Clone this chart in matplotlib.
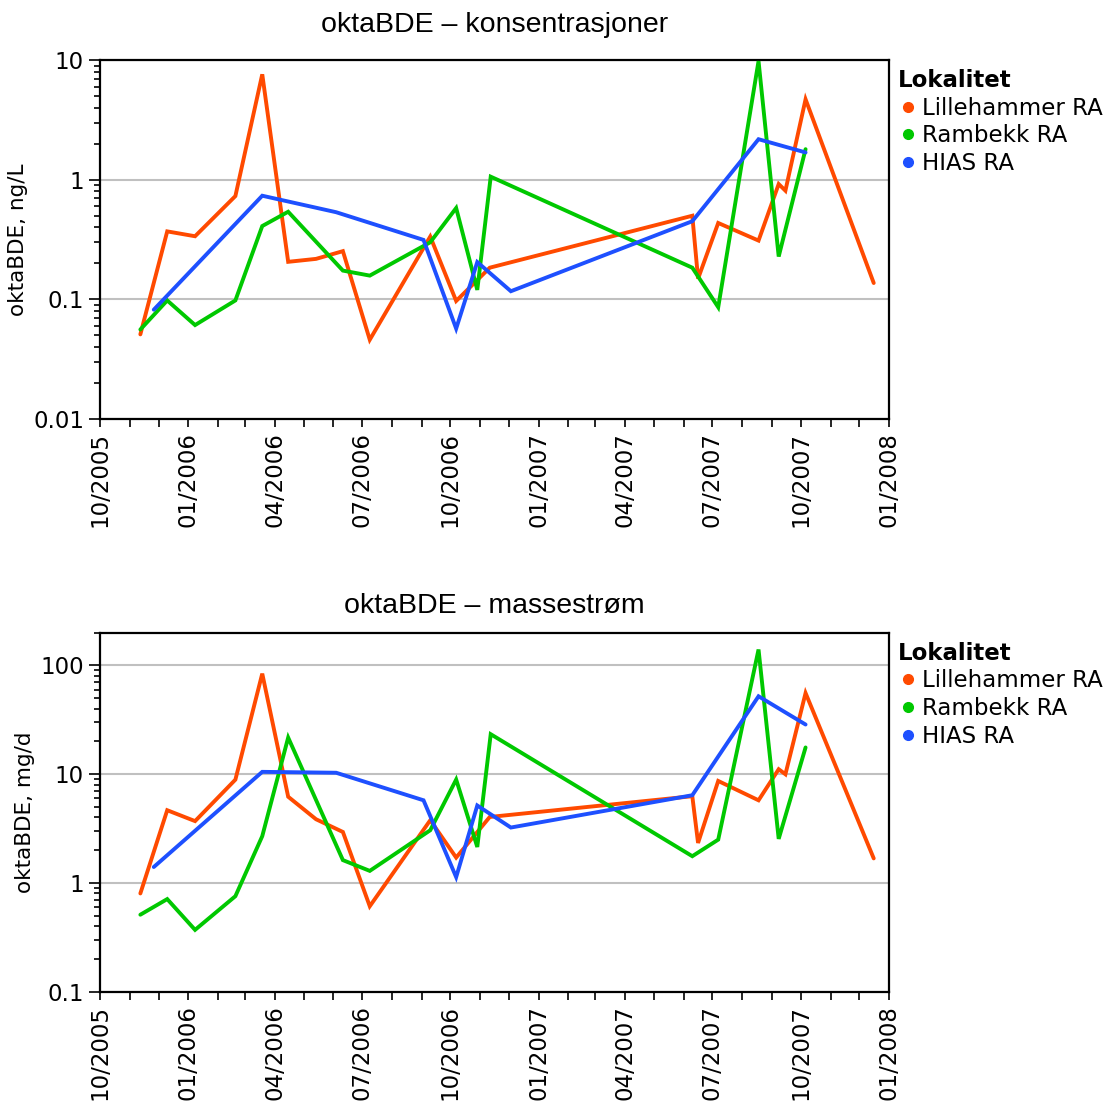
import matplotlib
matplotlib.use("Agg")
import matplotlib.pyplot as plt
import matplotlib.dates as mdates
import pandas as pd
from matplotlib.lines import Line2D
from matplotlib.ticker import LogLocator, FuncFormatter, NullFormatter

# Lillehammer RA
lille_dates = ["2005-11-12", "2005-12-10", "2006-01-08", "2006-02-19", "2006-03-19",
               "2006-04-15", "2006-05-14", "2006-06-11", "2006-07-09", "2006-09-10",
               "2006-10-07", "2006-11-11", "2007-06-10", "2007-06-16", "2007-07-07",
               "2007-08-18", "2007-09-08", "2007-09-15", "2007-10-06", "2007-12-16"]
lille_conc = [0.051, 0.37, 0.337, 0.73, 7.6, 0.206, 0.218, 0.253, 0.046, 0.335,
              0.097, 0.184, 0.50, 0.149, 0.435, 0.31, 0.92, 0.81, 4.7, 0.137]
lille_flux = [0.80, 4.66, 3.7, 8.9, 84, 6.2, 3.85, 2.94, 0.61, 3.77,
              1.71, 4.04, 6.27, 2.33, 8.66, 5.75, 11.1, 9.98, 55.7, 1.68]

# Rambekk RA
rambekk_dates = ["2005-11-12", "2005-12-10", "2006-01-08", "2006-02-19", "2006-03-19",
                 "2006-04-15", "2006-06-11", "2006-07-09", "2006-09-10", "2006-10-07",
                 "2006-10-29", "2006-11-12", "2007-06-10", "2007-07-07", "2007-08-18",
                 "2007-09-08", "2007-10-06"]
rambekk_conc = [0.056, 0.098, 0.061, 0.098, 0.41, 0.54, 0.174, 0.158, 0.30, 0.58,
                0.12, 1.06, 0.184, 0.086, 9.8, 0.228, 1.8]
rambekk_flux = [0.51, 0.71, 0.37, 0.755, 2.69, 21.7, 1.62, 1.29, 3.05, 8.92,
                2.14, 23.3, 1.76, 2.5, 140, 2.54, 17.6]

# HIAS RA
hias_dates = ["2005-11-26", "2006-03-19", "2006-06-04", "2006-09-03", "2006-10-07",
              "2006-10-29", "2006-12-03", "2007-06-10", "2007-08-18", "2007-10-06"]
hias_conc = [0.082, 0.735, 0.535, 0.314, 0.057, 0.205, 0.117, 0.45, 2.18, 1.69]
hias_flux = [1.40, 10.5, 10.3, 5.75, 1.13, 5.15, 3.23, 6.4, 52, 28.6]

series = [
    ("Lillehammer RA", "#FF4A00", lille_dates, lille_conc, lille_flux),
    ("Rambekk RA", "#00C800", rambekk_dates, rambekk_conc, rambekk_flux),
    ("HIAS RA", "#1E50FF", hias_dates, hias_conc, hias_flux),
]

# title, y label, which values, y range, labelled decades, title pad
panels = [
    ("oktaBDE – konsentrasjoner", "oktaBDE, ng/L", "conc", (0.01, 10), [0.01, 0.1, 1, 10], 20),
    ("oktaBDE – massestrøm", "oktaBDE, mg/d", "flux", (0.1, 200), [0.1, 1, 10, 100], 14),
]

plt.rcParams["font.family"] = ["DejaVu Sans"]

fig = plt.figure(figsize=(11.09, 11.08), dpi=100)
axes = [fig.add_axes([0.0902, 0.6218, 0.7115, 0.324]),
        fig.add_axes([0.0902, 0.105, 0.7115, 0.324])]

for ax, (title, ylabel, kind, ylim, majors, tpad) in zip(axes, panels):
    for name, color, dates, conc, flux in series:
        vals = conc if kind == "conc" else flux
        ax.plot(pd.to_datetime(dates), vals, color=color, lw=2.8,
                solid_capstyle="round", solid_joinstyle="miter", zorder=3)

    ax.set_yscale("log")
    ax.set_ylim(*ylim)
    ax.set_xlim(pd.Timestamp("2005-10-01"), pd.Timestamp("2008-01-01"))
    ax.yaxis.set_major_locator(plt.FixedLocator(majors))
    ax.yaxis.set_major_formatter(FuncFormatter(lambda v, p: "%g" % v))
    ax.yaxis.set_minor_locator(LogLocator(base=10, subs=range(2, 10)))
    ax.yaxis.set_minor_formatter(NullFormatter())

    ax.xaxis.set_major_locator(mdates.MonthLocator(bymonth=[1, 4, 7, 10]))
    ax.xaxis.set_minor_locator(mdates.MonthLocator())
    ax.xaxis.set_major_formatter(mdates.DateFormatter("%m/%Y"))
    for lbl in ax.get_xticklabels():
        lbl.set_rotation(90)

    ax.grid(axis="y", which="major", color="#c0c0c0", lw=1.5, zorder=0)
    ax.tick_params(which="both", direction="out", width=1.2, labelsize=16.5,
                   color="black")
    ax.tick_params(axis="y", which="major", length=8)
    ax.tick_params(axis="y", which="minor", length=4)
    ax.tick_params(axis="x", which="both", length=6)
    for sp in ax.spines.values():
        sp.set_linewidth(1.6)

    ax.set_title(title, fontsize=20.5, pad=tpad, family="Liberation Sans")
    ax.set_ylabel(ylabel, fontsize=15.5)

    handles = [Line2D([], [], color=c, marker="o", ls="none", markersize=7)
               for _, c, *_ in series]
    leg = ax.legend(handles, [s[0] for s in series], title="Lokalitet",
                    loc="upper left", bbox_to_anchor=(1.0, 1.0), frameon=False,
                    fontsize=16.5, handlelength=0.85, handletextpad=0.2,
                    borderaxespad=0.0, borderpad=0.4, labelspacing=0.2)
    leg.get_title().set_fontweight("bold")
    leg.get_title().set_fontsize(16.5)
    leg._legend_box.align = "left"

fig.savefig("out.png", dpi=100)
